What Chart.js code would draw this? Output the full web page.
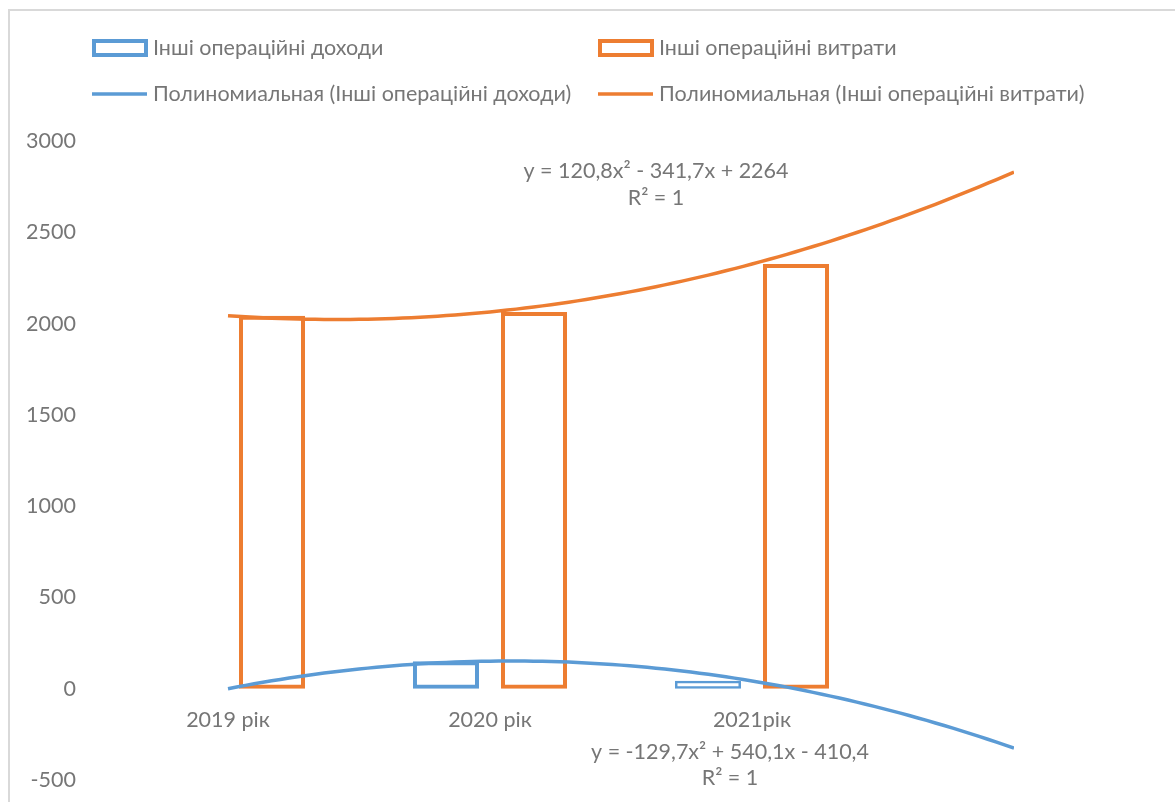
<!DOCTYPE html>
<html>
<head>
<meta charset="utf-8">
<script src="https://cdn.jsdelivr.net/npm/chart.js@4.4.1/dist/chart.umd.min.js"></script>
<style>
  html, body { margin: 0; padding: 0; background: #ffffff; }
  #wrap { width: 1175px; height: 802px; position: relative; }
  canvas { display: block; }
</style>
</head>
<body>
<div id="wrap"><canvas id="chart" width="1175" height="802"></canvas></div>
<script>
// Categories (years) and the two bar series
const categories = ['2019 рік', '2020 рік', '2021рік'];
const incomeLabel = 'Інші операційні доходи';
const expenseLabel = 'Інші операційні витрати';
const incomeValues = [0, 151, 43];
const expenseValues = [2043, 2064, 2326];

// Polynomial (2nd order) trend coefficients: a·x² + b·x + c
const incomeTrend = [-129.7, 540.1, -410.4];
const expenseTrend = [120.8, -341.7, 2264];
const trendPrefix = 'Полиномиальная';
const trendForward = 1; // periods projected past the last category

// Value axis ticks
const yTickValues = [-500, 0, 500, 1000, 1500, 2000, 2500, 3000];

const FONT = 'Lato, "Liberation Sans", sans-serif';
const FONT_SIZE = 21.5;
const TEXT = '#767676';
const BLUE = '#5B9BD5';
const ORANGE = '#ED7D31';

function trendPoints(c) {
  const start = 1, end = categories.length + trendForward, steps = 90;
  const pts = [];
  for (let i = 0; i <= steps; i++) {
    const x = start + (end - start) * i / steps;
    pts.push({ x, y: c[0] * x * x + c[1] * x + c[2] });
  }
  return pts;
}

function fmt(v) { return String(Math.abs(v)).replace('.', ','); }
function equation(c) {
  const s = (v) => (v < 0 ? '- ' : '+ ');
  const first = (c[0] < 0 ? '-' : '') + fmt(c[0]) + 'x²';
  return 'y = ' + first + ' ' + s(c[1]) + fmt(c[1]) + 'x ' + s(c[2]) + fmt(c[2]);
}

const barData = (vals) => vals.map((v, i) => ({ x: i + 1, y: v }));

// Thinner outline for very short bars so they stay hollow
function barBorder(ctx) {
  const v = ctx.raw ? Math.abs(ctx.raw.y) : 0;
  return v < 100 ? 2.5 : 4;
}

// Frame, legend and trend equations
const decorations = {
  id: 'decorations',
  beforeDraw(chart) {
    const ctx = chart.ctx;
    ctx.save();
    ctx.fillStyle = '#ffffff';
    ctx.fillRect(0, 0, chart.width, chart.height);
    ctx.strokeStyle = '#d9d9d9';
    ctx.lineWidth = 2;
    ctx.strokeRect(9, 10, chart.width + 10, chart.height + 10);
    ctx.restore();
  },
  afterDraw(chart) {
    const ctx = chart.ctx;
    ctx.save();
    ctx.font = FONT_SIZE + 'px ' + FONT;
    ctx.fillStyle = TEXT;
    ctx.textBaseline = 'middle';
    ctx.textAlign = 'left';

    const cols = [92, 598];
    const rowBox = 48, rowLine = 94;
    const items = [
      { col: 0, row: rowBox, kind: 'box', color: BLUE, text: incomeLabel },
      { col: 1, row: rowBox, kind: 'box', color: ORANGE, text: expenseLabel },
      { col: 0, row: rowLine, kind: 'line', color: BLUE, text: trendPrefix + ' (' + incomeLabel + ')' },
      { col: 1, row: rowLine, kind: 'line', color: ORANGE, text: trendPrefix + ' (' + expenseLabel + ')' }
    ];
    items.forEach(it => {
      const x0 = cols[it.col];
      ctx.strokeStyle = it.color;
      ctx.lineWidth = 4;
      if (it.kind === 'box') {
        ctx.strokeRect(x0 + 2, it.row - 7, 52, 14);
      } else {
        ctx.lineWidth = 3.5;
        ctx.beginPath();
        ctx.moveTo(x0, it.row);
        ctx.lineTo(x0 + 55, it.row);
        ctx.stroke();
      }
      ctx.fillText(it.text, x0 + 61, it.row);
    });

    ctx.textAlign = 'center';
    ctx.fillText(equation(expenseTrend), 656, 171);
    ctx.fillText('R² = 1', 656, 198);
    ctx.fillText(equation(incomeTrend), 730, 752);
    ctx.fillText('R² = 1', 730, 778);
    ctx.restore();
  }
};

new Chart(document.getElementById('chart'), {
  type: 'bar',
  data: {
    datasets: [
      {
        type: 'line',
        label: trendPrefix + ' (' + incomeLabel + ')',
        data: trendPoints(incomeTrend),
        borderColor: BLUE,
        borderWidth: 3.5,
        pointRadius: 0,
        tension: 0,
        fill: false,
        order: 0
      },
      {
        type: 'line',
        label: trendPrefix + ' (' + expenseLabel + ')',
        data: trendPoints(expenseTrend),
        borderColor: ORANGE,
        borderWidth: 3.5,
        pointRadius: 0,
        tension: 0,
        fill: false,
        order: 0
      },
      {
        label: incomeLabel,
        data: barData(incomeValues),
        backgroundColor: 'rgba(255,255,255,0)',
        borderColor: BLUE,
        borderWidth: barBorder,
        borderSkipped: false,
        categoryPercentage: 0.672,
        barPercentage: 0.75,
        order: 1
      },
      {
        label: expenseLabel,
        data: barData(expenseValues),
        backgroundColor: 'rgba(255,255,255,0)',
        borderColor: ORANGE,
        borderWidth: barBorder,
        borderSkipped: false,
        categoryPercentage: 0.672,
        barPercentage: 0.75,
        order: 1
      }
    ]
  },
  options: {
    responsive: false,
    animation: false,
    devicePixelRatio: 1,
    layout: { padding: { top: 141, right: 161, bottom: 22, left: 0 } },
    plugins: { legend: { display: false }, tooltip: { enabled: false } },
    scales: {
      x: {
        type: 'linear',
        min: 0.5,
        max: categories.length + trendForward,
        offset: false,
        position: { y: 0 },
        grid: { display: false, drawTicks: false },
        border: { display: false },
        afterBuildTicks: (s) => { s.ticks = categories.map((_, i) => ({ value: i + 1 })); },
        ticks: {
          autoSkip: false,
          maxRotation: 0,
          padding: 18,
          color: TEXT,
          font: { family: FONT, size: FONT_SIZE },
          callback: (v) => categories[v - 1] ?? ''
        }
      },
      y: {
        min: yTickValues[0],
        max: yTickValues[yTickValues.length - 1],
        grid: { display: false, drawTicks: false },
        border: { display: false },
        afterBuildTicks: (s) => { s.ticks = yTickValues.map(v => ({ value: v })); },
        afterFit: (s) => { s.width = 97; s.paddingTop = 0; s.paddingBottom = 0; },
        ticks: {
          padding: 21,
          color: TEXT,
          font: { family: FONT, size: FONT_SIZE },
          callback: (v) => String(v)
        }
      }
    }
  },
  plugins: [decorations]
});
</script>
</body>
</html>
